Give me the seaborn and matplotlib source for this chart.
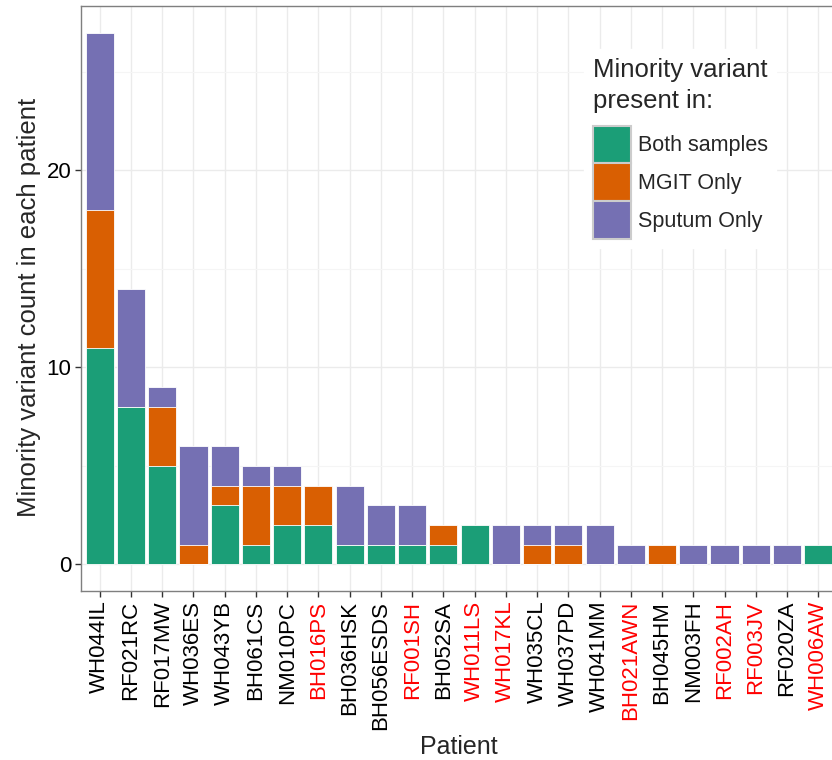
import matplotlib
matplotlib.use("Agg")
import matplotlib.pyplot as plt
from matplotlib.patches import Patch
from matplotlib.ticker import MultipleLocator
import seaborn as sns
import pandas as pd
import numpy as np

patients = ["WH044IL", "RF021RC", "RF017MW", "WH036ES", "WH043YB", "BH061CS", "NM010PC",
            "BH016PS", "BH036HSK", "BH056ESDS", "RF001SH", "BH052SA", "WH011LS", "WH017KL",
            "WH035CL", "WH037PD", "WH041MM", "BH021AWN", "BH045HM", "NM003FH", "RF002AH",
            "RF003JV", "RF020ZA", "WH006AW"]
both_samples = [11, 8, 5, 0, 3, 1, 2, 2, 1, 1, 1, 1, 2, 0, 0, 0, 0, 0, 0, 0, 0, 0, 0, 1]
mgit_only    = [7, 0, 3, 1, 1, 3, 2, 2, 0, 0, 0, 1, 0, 0, 1, 1, 0, 0, 1, 0, 0, 0, 0, 0]
sputum_only  = [9, 6, 1, 5, 2, 1, 1, 0, 3, 2, 2, 0, 0, 2, 1, 1, 2, 1, 0, 1, 1, 1, 1, 0]
red_patients = ["BH016PS", "RF001SH", "WH011LS", "WH017KL", "BH021AWN", "RF002AH", "RF003JV", "WH006AW"]
categories = ["Both samples", "MGIT Only", "Sputum Only"]
colors = ["#1B9E77", "#D95F02", "#7570B3"]

sns.set_theme(style="white")
plt.rcParams['font.family'] = ['Liberation Sans', 'DejaVu Sans']

df = pd.DataFrame({"patient": patients, "both": both_samples,
                   "mgit": mgit_only, "sputum": sputum_only})
df["lvl1"] = df["both"]
df["lvl2"] = df["both"] + df["mgit"]
df["lvl3"] = df["both"] + df["mgit"] + df["sputum"]

fig = plt.figure(figsize=(8.32, 7.6), dpi=100)
ax = fig.add_axes([81 / 832, 1 - 591 / 760, (837 - 81) / 832, (591 - 6) / 760])

ax.set_axisbelow(True)
for lvl, col in zip(["lvl3", "lvl2", "lvl1"], colors[::-1]):
    sns.barplot(data=df, x="patient", y=lvl, order=patients, color=col, width=0.9,
                saturation=1, edgecolor="white", linewidth=0.6, ax=ax, errorbar=None)

ax.set_xlim(-0.6, len(patients) - 0.4)
ax.set_ylim(-1.35, 28.35)
ax.yaxis.set_major_locator(MultipleLocator(10))
ax.yaxis.set_minor_locator(MultipleLocator(5))
ax.grid(True, which="major", color="#EBEBEB", linewidth=1.0)
ax.grid(True, which="minor", axis="y", color="#F5F5F5", linewidth=0.8)

for s in ax.spines.values():
    s.set_color("#7F7F7F")
    s.set_linewidth(1.0)

ax.tick_params(axis="both", which="major", length=4, width=1, color="#333333",
               labelsize=16, labelcolor="black", pad=3, bottom=True, left=True)
ax.tick_params(axis="y", which="minor", length=0)
ax.set_xticks(range(len(patients)))
ax.set_xticklabels(patients, rotation=90)
for lab in ax.get_xticklabels():
    if lab.get_text() in red_patients:
        lab.set_color("red")

ax.set_xlabel("Patient", fontsize=18, va="baseline")
ax.xaxis.set_label_coords(0.5, (591 - 754) / 585)
ax.set_ylabel("Minority variant count in each patient", fontsize=18.5)
ax.yaxis.set_label_coords((41 - 81) / 756, (591 - 307) / 585)

handles = [Patch(facecolor=c, edgecolor="#CCCCCC", linewidth=1.5, label=l)
           for c, l in zip(colors, categories)]
leg = ax.legend(handles=handles, title="Minority variant\npresent in:", loc="upper left",
                bbox_to_anchor=((584 - 81) / 756, (591 - 49) / 585), borderaxespad=0,
                fontsize=15.5, title_fontsize=18.5,
                frameon=True, facecolor="white", edgecolor="white", framealpha=1,
                handlelength=1.8, handleheight=2.32, labelspacing=0.0, handletextpad=0.3,
                borderpad=0.4)
leg.get_title().set_linespacing(1.4)
leg._legend_box.align = "left"
leg._legend_box.sep = 9

fig.savefig("out.png", dpi=100)
